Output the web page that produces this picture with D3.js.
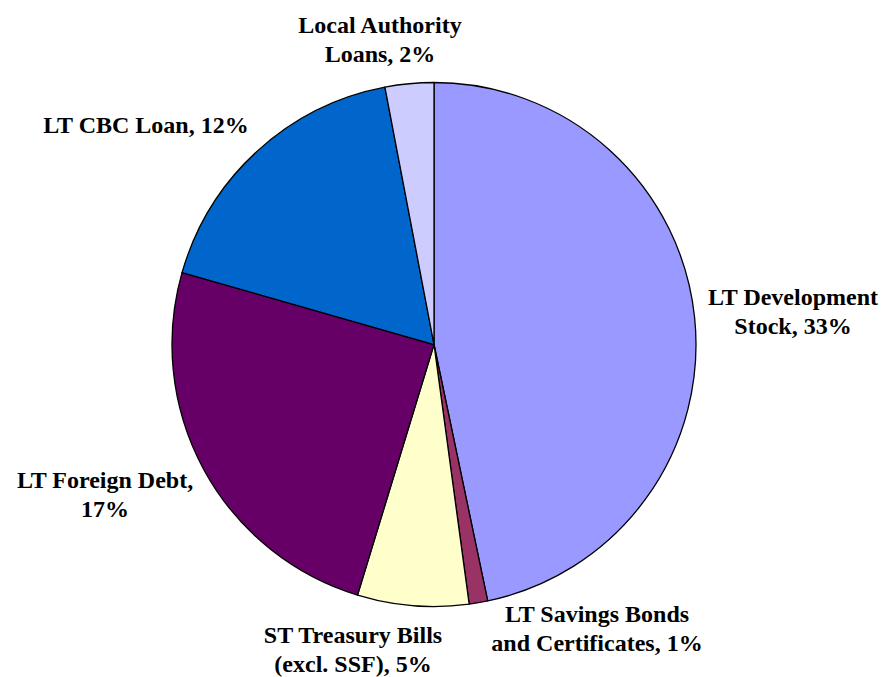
<!DOCTYPE html>
<html>
<head>
<meta charset="utf-8">
<script src="https://cdn.jsdelivr.net/npm/d3@7"></script>
<style>
    html, body { margin: 0; padding: 0; background: #fff; }
    svg text { font-family: "Times New Roman", "Liberation Serif", serif; font-weight: bold; font-size: 24px; fill: #000; }
</style>
</head>
<body>
<svg id="viz_pie"></svg>
<script>
// slice order runs clockwise from 12 o'clock
var categories = [
    "LT Development Stock",
    "LT Savings Bonds and Certificates",
    "ST Treasury Bills (excl. SSF)",
    "LT Foreign Debt",
    "LT CBC Loan",
    "Local Authority Loans"
];
var values = [32.7, 0.8, 4.8, 17.3, 12.3, 2.1];
var pct_labels = ["33%", "1%", "5%", "17%", "12%", "2%"];
var label_lines = [
    ["LT Development", "Stock, 33%"],
    ["LT Savings Bonds", "and Certificates, 1%"],
    ["ST Treasury Bills", "(excl. SSF), 5%"],
    ["LT Foreign Debt,", "17%"],
    ["LT CBC Loan, 12%"],
    ["Local Authority", "Loans, 2%"]
];
var colors = ["#9999FF", "#993366", "#FFFFCC", "#660066", "#0066CC", "#CCCCFF"];

var width = 887,
    height = 677,
    cx = 434,
    cy = 344.5,
    radius = 262,
    line_h = 29;

// label anchor (center of first baseline) relative to pie center
var label_offset = [
    [359, -40],
    [163, 277],
    [-81, 298],
    [-329, 143],
    [-288, -212],
    [-54, -312]
];

var data = categories.map(function(c, i) {
    return {"name": c, "value": values[i], "pct": pct_labels[i], "lines": label_lines[i], "color": colors[i], "off": label_offset[i]};
});

var svg = d3.select("svg#viz_pie")
        .attr("width", width)
        .attr("height", height)
    .append("g")
        .attr("transform", "translate(" + [cx, cy] + ")");

var pie = d3.pie()
    .value(function(d) { return d.value; })
    .sort(null);

var arc = d3.arc()
    .innerRadius(0)
    .outerRadius(radius);

svg.selectAll("path.arc")
    .data(pie(data))
    .enter()
    .append("path")
        .attr("class", "arc")
        .attr("d", arc)
        .style("fill", function(d) { return d.data.color; })
        .style("stroke", "#000")
        .style("stroke-width", 1.3)
        .style("stroke-linejoin", "round");

var label = svg.selectAll("text.label")
    .data(data)
    .enter()
    .append("text")
        .attr("class", "label")
        .attr("text-anchor", "middle")
        .attr("transform", function(d) { return "translate(" + d.off + ")"; });

label.selectAll("tspan")
    .data(function(d) { return d.lines; })
    .enter()
    .append("tspan")
        .attr("x", 0)
        .attr("y", function(d, i) { return i * line_h; })
        .text(function(d) { return d; });
</script>
</body>
</html>
